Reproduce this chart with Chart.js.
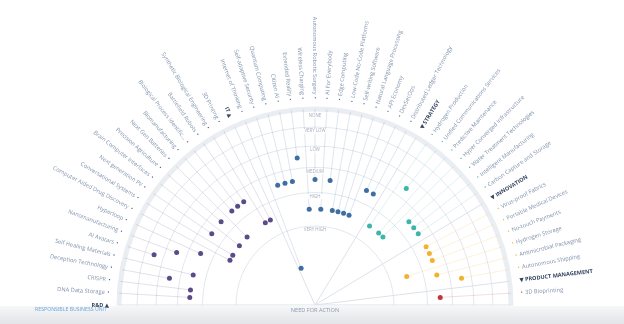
<!DOCTYPE html>
<html lang="en">
<head>
<meta charset="UTF-8">
<title>Technology Radar</title>
<script src="https://cdn.jsdelivr.net/npm/chart.js"></script>
<style>
  html, body { margin: 0; padding: 0; background: #fff; overflow: hidden; }
  #wrap { width: 624px; height: 324px; overflow: hidden; position: relative; }
</style>
</head>
<body>
<div id="wrap"><canvas id="radar" width="624" height="620"></canvas></div>
<script>
// business units, left (180°) to right (0°)
const sections = ['R&D', 'IT', 'STRATEGY', 'INNOVATION', 'PRODUCT MANAGEMENT'];
const sectionColors = ['#5b4b8a', '#3f6ea3', '#3db5aa', '#f1b32f', '#c3323e'];

const rdItems = ['DNA Data Storage', 'CRISPR', 'Deception Technology', 'Self Healing Materials', 'AI Avatars',
  'Nanomanufacturing', 'Hyperloop', 'Computer Aided Drug Discovery', 'Conversational Systems', 'Next generation PV',
  'Brain Computer Interfaces', 'Precision Agriculture', 'Next Gen Batteries', 'Biomanufacturing',
  'Biological Process Identific...', 'Battlefield Robots', 'Synthetic Biological Engineering', '3D Printing'];
const rdValues = [64, 64, 75.5, 64, 86, 75.5, 64, 49, 49, 64, 49, 64, 49, 64, 64, 64, 49, 49];

const itItems = ['Internet of Thinking', 'Self-adaptive Security', 'Quantum Computing', 'Citizen AI', 'Extended Reality',
  'Wireless Charging', 'Autonomous Robotic Surgery', 'AI For Everybody', 'Edge Computing', 'Low-Code No-Code Platforms',
  'Self-writing Software', 'Natural Language Processing', 'API Economy', 'DevSecOps', 'Distributed Ledger Technology'];
const itValues = [20, 64, 64, 64, 75.5, 49, 64, 49, 64, 49, 49, 49, 49, 64, 64];

const strategyItems = ['Hydrogen Production', 'Unified Communications Services', 'Predictive Maintenance',
  'Hyper Converged Infrastructure', 'Water Treatment Technologies', 'Intelligent Manufacturing', 'Carbon Capture and Storage'];
const strategyValues = [49, 75.5, 49, 49, 64, 64, 64];

const innovationItems = ['Virus-proof Fabrics', 'Portable Medical Devices', 'No-touch Payments', 'Hydrogen Storage',
  'Antimicrobial Packaging', 'Autonomous Shipping'];
const innovationValues = [64, 64, 64, 49, 64, 76];

const productItems = ['3D Bioprinting'];
const productValues = [64];

// rings, inner to outer (outer edge = 100)
const ringValues = [40.3, 57.4, 70.2, 81.1, 90.8, 100];
const ringLabels = ['VERY HIGH', 'HIGH', 'MEDIUM', 'LOW', 'VERY LOW', 'NONE'];

const sectionItems = [rdItems, itItems, strategyItems, innovationItems, productItems];
const sectionValues = [rdValues, itValues, strategyValues, innovationValues, productValues];

// one slot per header and per technology, then an empty lower half
const slots = [];
sectionItems.forEach((items, s) => {
  slots.push({ text: sections[s], header: true, sec: s });
  items.forEach((t, k) => slots.push({ text: t, header: false, sec: s, value: sectionValues[s][k] }));
});
const topCount = slots.length;
const labels = slots.map(sl => sl.text).concat(new Array(topCount).fill(''));
const dividers = [0, topCount];
slots.forEach((sl, i) => { if (sl.header && i > 0) dividers.push(i); });

const datasets = sections.map((name, s) => {
  const data = new Array(labels.length).fill(null);
  slots.forEach((sl, i) => { if (!sl.header && sl.sec === s) data[i] = sl.value; });
  return {
    label: name,
    data: data,
    showLine: false,
    fill: false,
    pointRadius: 2.5,
    pointBorderWidth: 0,
    pointBackgroundColor: sectionColors[s],
    pointBorderColor: sectionColors[s]
  };
});

function withAlpha(hex, a) {
  const n = parseInt(hex.slice(1), 16);
  return 'rgba(' + (n >> 16) + ',' + ((n >> 8) & 255) + ',' + (n & 255) + ',' + a + ')';
}

const FONT = '"Open Sans", "DejaVu Sans", sans-serif';
const LABEL_R = 206;

const radarDecor = {
  id: 'radarDecor',
  beforeDatasetsDraw(chart) {
    const r = chart.scales.r;
    const ctx = chart.ctx;
    ctx.save();
    // spoke from every dot out to the rim
    chart.data.datasets.forEach((ds, s) => {
      ctx.strokeStyle = withAlpha(sectionColors[s], 0.22);
      ctx.lineWidth = 0.8;
      ds.data.forEach((v, i) => {
        if (v == null) return;
        const a = r.getPointPositionForValue(i, v);
        const b = r.getPointPositionForValue(i, r.max);
        ctx.beginPath();
        ctx.moveTo(a.x, a.y);
        ctx.lineTo(b.x, b.y);
        ctx.stroke();
      });
    });
    // ring names on the vertical axis
    ctx.font = '4.4px ' + FONT;
    ctx.textAlign = 'center';
    ctx.textBaseline = 'middle';
    ringValues.forEach((v, k) => {
      const y = r.yCenter - r.getDistanceFromCenterForValue(v) + (k === ringValues.length - 1 ? 6.5 : 4);
      const w = ctx.measureText(ringLabels[k]).width;
      ctx.fillStyle = '#fff';
      ctx.fillRect(r.xCenter - w / 2 - 1.5, y - 2.6, w + 3, 5.2);
      ctx.fillStyle = '#a3adbd';
      ctx.fillText(ringLabels[k], r.xCenter, y);
    });
    ctx.restore();
  },
  afterDraw(chart) {
    const r = chart.scales.r;
    const ctx = chart.ctx;
    const W = chart.width;
    ctx.save();
    // hide the lower half of the circle
    ctx.fillStyle = '#fff';
    ctx.fillRect(0, r.yCenter + 0.6, W, chart.height);
    const g = ctx.createLinearGradient(0, r.yCenter + 1, 0, 324);
    g.addColorStop(0, '#f6f7f9');
    g.addColorStop(1, '#e3e4e7');
    ctx.fillStyle = g;
    ctx.fillRect(0, r.yCenter + 1, W, 324 - r.yCenter);

    // technology and business unit names along the rim
    slots.forEach((sl, i) => {
      const p = r.getPointPosition(i, LABEL_R);
      const a = r.getIndexAngle(i) - Math.PI / 2;
      const left = a >= Math.PI - 1e-6 || a < -Math.PI / 2 + 1e-6;
      ctx.save();
      ctx.translate(p.x, p.y);
      ctx.rotate(left ? a - Math.PI : a);
      ctx.textBaseline = 'middle';
      const dir = left ? -1 : 1;
      ctx.textAlign = left ? 'right' : 'left';
      if (sl.header) {
        ctx.font = 'bold 5.5px ' + FONT;
        ctx.fillStyle = '#34445f';
        ctx.fillText(left ? sl.text + ' \u25B2' : '\u25BC ' + sl.text, 0, 0);
      } else {
        ctx.font = '5.7px ' + FONT;
        ctx.fillStyle = sectionColors[sl.sec];
        ctx.fillText('\u2022', 0, 0);
        ctx.fillStyle = '#8193ab';
        ctx.fillText(sl.text, dir * 4.5, 0);
      }
      ctx.restore();
    });

    ctx.textAlign = 'center';
    ctx.textBaseline = 'middle';
    ctx.font = '5.6px ' + FONT;
    ctx.fillStyle = '#8c9ab0';
    ctx.fillText('NEED FOR ACTION', r.xCenter, 310);
    ctx.font = '5.2px ' + FONT;
    ctx.fillStyle = '#6aa6da';
    ctx.fillText('RESPONSIBLE BUSINESS UNIT', 71, 310);
    ctx.restore();
  }
};

new Chart(document.getElementById('radar'), {
  type: 'radar',
  data: { labels: labels, datasets: datasets },
  options: {
    responsive: false,
    animation: false,
    layout: { padding: { left: 119, right: 113, top: 109, bottom: 119 } },
    plugins: { legend: { display: false }, tooltip: { enabled: false } },
    scales: {
      r: {
        min: 0,
        max: 100,
        startAngle: 270,
        afterBuildTicks: scale => {
          scale.ticks = [0].concat(ringValues).map(v => ({ value: v }));
        },
        ticks: { display: false },
        pointLabels: { display: false },
        grid: {
          circular: true,
          color: ctx => ctx.index === ringValues.length ? '#eaedf1' : '#e3e7ed',
          lineWidth: ctx => ctx.index === ringValues.length ? 5 : 1
        },
        angleLines: {
          display: true,
          color: '#dde2e9',
          lineWidth: ctx => dividers.includes(ctx.index) ? 1 : 0
        }
      }
    }
  },
  plugins: [radarDecor]
});
</script>
</body>
</html>
